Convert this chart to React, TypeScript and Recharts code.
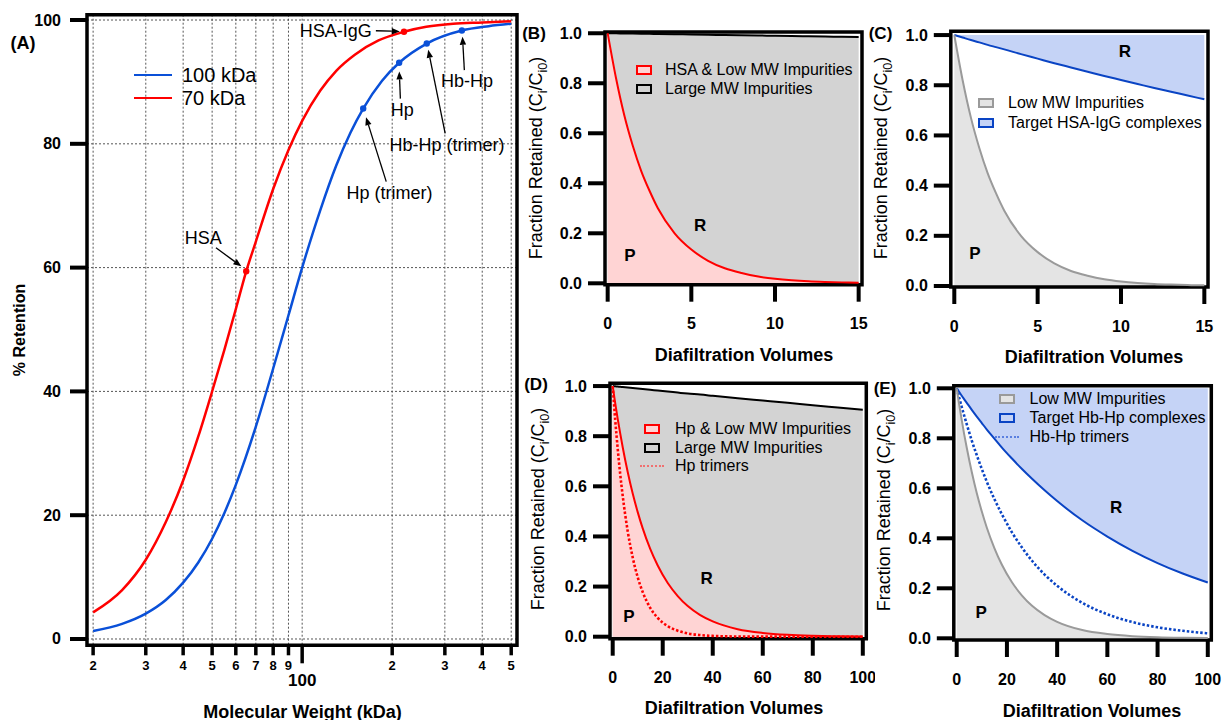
import React from "react";
import {
  ComposedChart,
  LineChart,
  Line,
  Area,
  XAxis,
  YAxis,
  CartesianGrid,
  ReferenceArea,
  ReferenceDot,
  ReferenceLine,
} from "recharts";

const FONT = "'Liberation Sans', Arial, Helvetica, sans-serif";

// ---------- panel A: % retention vs molecular weight ----------
const mw100 = [20, 25, 30, 35, 40, 45, 50, 55, 60, 70, 80, 90, 100, 115, 130, 145, 160, 185, 211, 261, 342, 420, 500];
const ret100 = [1.3, 2.45, 4.1, 6.3, 9.1, 12.4, 16.2, 20.4, 24.9, 34.3, 43.7, 52.3, 60.0, 69.3, 76.5, 81.8, 85.7, 90.2, 93.1, 96.2, 98.3, 99.0, 99.4];
const mw70 = [20, 25, 30, 35, 40, 45, 50, 55, 60, 65, 70, 80, 90, 100, 115, 130, 150, 180, 219, 260, 320, 400, 500];
const ret70 = [4.3, 7.9, 12.8, 18.9, 25.6, 32.8, 40.0, 46.8, 53.3, 59.4, 64.2, 72.7, 79.0, 83.7, 88.6, 91.8, 94.4, 96.7, 98.1, 98.9, 99.4, 99.6, 99.8];

const massTicks = [20, 30, 40, 50, 60, 70, 80, 90, 100, 200, 300, 400, 500];
const massTickLabels = ["2", "3", "4", "5", "6", "7", "8", "9", "100", "2", "3", "4", "5"];
const retentionTicks = [0, 20, 40, 60, 80, 100];

const proteins = ["HSA", "HSA-IgG", "Hp (trimer)", "Hp", "Hb-Hp (trimer)", "Hb-Hp"];
const proteinMw = [65, 219, 160, 211, 261, 342];
const proteinRet = [59.4, 98.1, 85.7, 93.1, 96.2, 98.3];
const proteinMembrane = ["70", "70", "100", "100", "100", "100"];

// ---------- panels B-E: fraction retained vs diafiltration volumes ----------
const dvShort = [0, 0.5, 1, 1.5, 2, 2.5, 3, 4, 5, 6, 7, 8, 9, 10, 11, 12, 13, 14, 15];
const hsaLowB = [1, 0.82, 0.67, 0.55, 0.45, 0.37, 0.3, 0.2, 0.135, 0.09, 0.06, 0.041, 0.027, 0.018, 0.012, 0.008, 0.0055, 0.0037, 0.0025];
const largeB = [1, 0.9995, 0.999, 0.9985, 0.998, 0.9975, 0.997, 0.996, 0.995, 0.994, 0.993, 0.992, 0.991, 0.99, 0.989, 0.988, 0.987, 0.986, 0.985];
const lowMwC = [1, 0.82, 0.67, 0.55, 0.45, 0.37, 0.3, 0.2, 0.135, 0.09, 0.06, 0.041, 0.027, 0.018, 0.012, 0.008, 0.0055, 0.0037, 0.0025];
const targetC = [1, 0.99, 0.98, 0.971, 0.961, 0.952, 0.943, 0.924, 0.906, 0.888, 0.871, 0.854, 0.837, 0.821, 0.805, 0.789, 0.774, 0.759, 0.744];

const dvLong = [0, 1, 2, 3, 4, 6, 8, 10, 12, 15, 18, 22, 26, 30, 35, 40, 50, 60, 70, 80, 90, 100];
const hpLowD = [1, 0.932, 0.869, 0.811, 0.756, 0.657, 0.571, 0.497, 0.432, 0.35, 0.284, 0.214, 0.162, 0.122, 0.086, 0.061, 0.03, 0.015, 0.0074, 0.0037, 0.0018, 0.0009];
const hpTrimerD = [1, 0.866, 0.75, 0.649, 0.562, 0.421, 0.316, 0.237, 0.178, 0.115, 0.075, 0.042, 0.024, 0.013, 0.0065, 0.0032, 0.0007, 0.0002, 0.0001, 0, 0, 0];
const largeD = [1, 0.999, 0.998, 0.997, 0.996, 0.994, 0.992, 0.99, 0.988, 0.985, 0.982, 0.978, 0.974, 0.97, 0.966, 0.961, 0.951, 0.942, 0.933, 0.923, 0.914, 0.905];
const lowMwE = [1, 0.934, 0.873, 0.815, 0.762, 0.665, 0.58, 0.507, 0.442, 0.361, 0.294, 0.224, 0.171, 0.13, 0.093, 0.066, 0.033, 0.017, 0.0086, 0.0043, 0.0022, 0.0011];
const targetE = [1, 0.985, 0.97, 0.956, 0.942, 0.914, 0.887, 0.861, 0.835, 0.799, 0.763, 0.719, 0.677, 0.638, 0.592, 0.549, 0.472, 0.407, 0.35, 0.301, 0.259, 0.223];
const trimerE = [1, 0.962, 0.925, 0.89, 0.856, 0.791, 0.732, 0.677, 0.626, 0.557, 0.496, 0.424, 0.363, 0.31, 0.255, 0.21, 0.142, 0.096, 0.065, 0.044, 0.03, 0.02];

const fracTicks = [0, 0.2, 0.4, 0.6, 0.8, 1.0];
const dvTicksShort = [0, 5, 10, 15];
const dvTicksLong = [0, 20, 40, 60, 80, 100];

// colours
const RED = "#ff0000";
const BLUE_A = "#0a50d8";
const BLUE = "#0a44c4";
const PINK = "#ffd4d4";
const GRAY_DARK = "#d3d3d3";
const GRAY_LIGHT = "#e4e4e4";
const GRAY_LINE = "#9a9a9a";
const BLUE_FILL = "#c5d3f6";

// callout layout for panel A (data coordinates)
const callouts: Record<string, { at: [number, number]; anchor: string; from: [number, number]; to: [number, number] }> = {
  HSA: { at: [46.7, 64.8], anchor: "middle", from: [51.5, 63.2], to: [62.6, 60.2] },
  "HSA-IgG": { at: [171, 98.2], anchor: "end", from: [176.4, 98.27], to: [212, 98.15] },
  "Hp (trimer)": { at: [196, 72.1], anchor: "middle", from: [191, 73.9], to: [163.5, 84.3] },
  Hp: { at: [216, 85.5], anchor: "middle", from: [213, 87.3], to: [211.2, 91.7] },
  "Hb-Hp (trimer)": { at: [305, 79.8], anchor: "middle", from: [300.7, 81.7], to: [264, 95.2] },
  "Hb-Hp": { at: [355.7, 90.2], anchor: "middle", from: [348.6, 91.9], to: [343.6, 97.3] },
};

const rows100 = mw100.map((mw, i) => ({ mw, ret: ret100[i] }));
const rows70 = mw70.map((mw, i) => ({ mw, ret: ret70[i] }));
const rowsB = dvShort.map((dv, i) => ({ dv, hsa: hsaLowB[i], large: largeB[i] }));
const rowsC = dvShort.map((dv, i) => ({ dv, low: lowMwC[i], target: targetC[i], band: [targetC[i], 1] }));
const rowsD = dvLong.map((dv, i) => ({ dv, hp: hpLowD[i], trimer: hpTrimerD[i], large: largeD[i] }));
const rowsE = dvLong.map((dv, i) => ({ dv, low: lowMwE[i], target: targetE[i], trimer: trimerE[i], band: [targetE[i], 1] }));

// ---------- tick renderers ----------
function massTick(p: any) {
  const { x, y, payload } = p;
  const idx = massTicks.indexOf(payload.value);
  const major = payload.value === 100;
  return (
    <g>
      <line x1={x} x2={x} y1={y} y2={y + (major ? 18 : 10)} stroke="#000" strokeWidth={3.5} />
      <text x={x} y={y + (major ? 35 : 20)} textAnchor="middle" dominantBaseline="central" fontFamily={FONT} fontSize={major ? 17 : 13} fontWeight="bold" fill="#000">
        {massTickLabels[idx]}
      </text>
    </g>
  );
}

function retTick(p: any) {
  const { x, y, payload } = p;
  return (
    <g>
      <line x1={x - 17} x2={x} y1={y} y2={y} stroke="#000" strokeWidth={4} />
      <text x={x - 26} y={y} textAnchor="end" dominantBaseline="central" fontFamily={FONT} fontSize={16} fontWeight="bold" fill="#000">
        {payload.value}
      </text>
    </g>
  );
}

function dvTick(p: any) {
  const { x, y, payload } = p;
  return (
    <g>
      <line x1={x} x2={x} y1={y} y2={y + 17} stroke="#000" strokeWidth={4} />
      <text x={x} y={y + 39} textAnchor="middle" dominantBaseline="central" fontFamily={FONT} fontSize={16} fontWeight="bold" fill="#000">
        {payload.value}
      </text>
    </g>
  );
}

function fracTick(p: any) {
  const { x, y, payload } = p;
  return (
    <g>
      <line x1={x - 17} x2={x} y1={y} y2={y} stroke="#000" strokeWidth={4} />
      <text x={x - 23} y={y} textAnchor="end" dominantBaseline="central" fontFamily={FONT} fontSize={16} fontWeight="bold" fill="#000">
        {Number(payload.value).toFixed(1)}
      </text>
    </g>
  );
}

const textShape = (text: string, size: number, bold: boolean, anchor: string) => (p: any) => (
  <text x={p.cx} y={p.cy} textAnchor={anchor as any} dominantBaseline="central" fontFamily={FONT} fontSize={size} fontWeight={bold ? "bold" : "normal"} fill="#000">
    {text}
  </text>
);

function arrowShape(p: any) {
  const { x1, y1, x2, y2 } = p;
  const ang = Math.atan2(y2 - y1, x2 - x1);
  const L = 8;
  const W = 3.2;
  const bx = x2 - L * Math.cos(ang);
  const by = y2 - L * Math.sin(ang);
  const pts = `${x2},${y2} ${bx - W * Math.sin(ang)},${by + W * Math.cos(ang)} ${bx + W * Math.sin(ang)},${by - W * Math.cos(ang)}`;
  return (
    <g>
      <line x1={x1} y1={y1} x2={bx} y2={by} stroke="#000" strokeWidth={1.3} />
      <polygon points={pts} fill="#000" />
    </g>
  );
}

// ---------- html text helpers ----------
function Txt({ x, y, size, bold, anchor = "middle", rotate, children }: any) {
  const tx = anchor === "middle" ? "-50%" : anchor === "end" ? "-100%" : "0";
  return (
    <div
      style={{
        position: "absolute",
        left: x,
        top: y,
        transform: `translate(${tx}, -50%)${rotate ? ` rotate(${rotate}deg)` : ""}`,
        fontFamily: FONT,
        fontSize: size,
        fontWeight: bold ? "bold" : "normal",
        whiteSpace: "nowrap",
        lineHeight: 1,
        color: "#000",
      }}
    >
      {children}
    </div>
  );
}

type LegendItem = { label: string; fill?: string; stroke: string; dotted?: boolean };

function PanelLegend({ sx, tx, y, gap, items }: { sx: number; tx: number; y: number; gap: number; items: LegendItem[] }) {
  return (
    <>
      {items.map((it, i) => (
        <React.Fragment key={it.label}>
          {it.dotted ? (
            <div style={{ position: "absolute", left: sx - 12, top: y + i * gap - 1, width: 24, borderTop: `2.5px dotted ${it.stroke}` }} />
          ) : (
            <div
              style={{
                position: "absolute",
                left: sx - 8,
                top: y + i * gap - 5,
                width: 16,
                height: 10,
                boxSizing: "border-box",
                background: it.fill,
                border: `2px solid ${it.stroke}`,
              }}
            />
          )}
          <Txt x={tx} y={y + i * gap} size={16} anchor="start">
            {it.label}
          </Txt>
        </React.Fragment>
      ))}
    </>
  );
}

const YTitle = ({ x, y }: { x: number; y: number }) => (
  <Txt x={x} y={y} size={18} rotate={-90}>
    Fraction Retained (C<sub style={{ fontSize: "0.7em" }}>i</sub>/C<sub style={{ fontSize: "0.7em" }}>i0</sub>)
  </Txt>
);

// ---------- generic decay panel ----------
const AXIS_W = 50;
const AXIS_H = 50;

function DecayPanel(props: {
  box: { left: number; top: number; width: number; height: number };
  plot: { top: number; right: number; bottom: number; left: number };
  xDomain: [number, number];
  yDomain: [number, number];
  xTicks: number[];
  rows: any[];
  areas: { key: string; fill: string }[];
  lines: { key: string; stroke: string; dotted?: boolean }[];
  marks: { text: string; x: number; y: number }[];
}) {
  const { box, plot, xDomain, yDomain, xTicks, rows, areas, lines, marks } = props;
  const margin = { top: plot.top, right: plot.right, left: plot.left - AXIS_W, bottom: plot.bottom - AXIS_H };
  return (
    <div style={{ position: "absolute", left: box.left, top: box.top }}>
      <ComposedChart width={box.width} height={box.height} data={rows} margin={margin}>
        <XAxis type="number" dataKey="dv" domain={xDomain} ticks={xTicks} allowDataOverflow interval={0} height={AXIS_H} tickSize={0} tickMargin={0} axisLine={false} tickLine={false} tick={dvTick} />
        <YAxis type="number" domain={yDomain} ticks={fracTicks} allowDataOverflow interval={0} width={AXIS_W} tickSize={0} tickMargin={0} axisLine={false} tickLine={false} tick={fracTick} />
        {areas.map((a) => (
          <Area key={a.key} type="monotone" dataKey={a.key} baseValue={0} stroke="none" fill={a.fill} fillOpacity={1} isAnimationActive={false} />
        ))}
        {lines.map((l) => (
          <Line
            key={l.key}
            type="monotone"
            dataKey={l.key}
            stroke={l.stroke}
            strokeWidth={l.dotted ? 2.6 : 2}
            strokeDasharray={l.dotted ? "2.5 2" : undefined}
            dot={false}
            activeDot={false}
            isAnimationActive={false}
          />
        ))}
        {marks.map((m) => (
          <ReferenceDot key={m.text} x={m.x} y={m.y} r={0} shape={textShape(m.text, 17, true, "middle")} />
        ))}
        <ReferenceArea x1={xDomain[0]} x2={xDomain[1]} y1={yDomain[0]} y2={yDomain[1]} fill="none" stroke="#000" strokeWidth={3.5} ifOverflow="visible" />
      </ComposedChart>
    </div>
  );
}

export default function App() {
  return (
    <div style={{ position: "absolute", left: 0, top: 0, width: 1226, height: 720, background: "#fff", fontFamily: FONT, overflow: "hidden" }}>
      {/* panel A */}
      <div style={{ position: "absolute", left: 0, top: 0 }}>
        <LineChart width={525} height={720} margin={{ top: 14.7, right: 8, bottom: 24.7, left: 27 }}>
          <CartesianGrid stroke="#555" strokeDasharray="2 2" strokeWidth={1} />
          <XAxis type="number" dataKey="mw" scale="log" domain={[19.08, 522.8]} ticks={massTicks} allowDataOverflow interval={0} height={50} tickSize={0} tickMargin={0} axisLine={false} tickLine={false} tick={massTick} />
          <YAxis type="number" domain={[-1.02, 100.86]} ticks={retentionTicks} allowDataOverflow interval={0} width={60} tickSize={0} tickMargin={0} axisLine={false} tickLine={false} tick={retTick} />
          <Line data={rows100} dataKey="ret" type="monotone" stroke={BLUE_A} strokeWidth={2.5} dot={false} activeDot={false} isAnimationActive={false} />
          <Line data={rows70} dataKey="ret" type="monotone" stroke={RED} strokeWidth={2.5} dot={false} activeDot={false} isAnimationActive={false} />
          {proteins.map((name) => (
            <ReferenceLine
              key={`arrow-${name}`}
              segment={[
                { x: callouts[name].from[0], y: callouts[name].from[1] },
                { x: callouts[name].to[0], y: callouts[name].to[1] },
              ]}
              shape={arrowShape}
            />
          ))}
          {proteins.map((name, i) => (
            <ReferenceDot key={`pt-${name}`} x={proteinMw[i]} y={proteinRet[i]} r={3.2} fill={proteinMembrane[i] === "70" ? RED : BLUE_A} stroke="none" />
          ))}
          {proteins.map((name) => (
            <ReferenceDot key={`lbl-${name}`} x={callouts[name].at[0]} y={callouts[name].at[1]} r={0} shape={textShape(name, 18, false, callouts[name].anchor)} />
          ))}
          <ReferenceArea x1={19.08} x2={522.8} y1={-1.02} y2={100.86} fill="none" stroke="#000" strokeWidth={3.5} ifOverflow="visible" />
        </LineChart>
      </div>
      {/* panel A legend + titles */}
      <div style={{ position: "absolute", left: 134, top: 74, width: 38, borderTop: `2.5px solid ${BLUE_A}` }} />
      <div style={{ position: "absolute", left: 134, top: 97, width: 38, borderTop: `2.5px solid ${RED}` }} />
      <Txt x={182} y={75} size={20} anchor="start">100 kDa</Txt>
      <Txt x={182} y={98} size={20} anchor="start">70 kDa</Txt>
      <Txt x={23} y={42.5} size={18} bold>(A)</Txt>
      <Txt x={20} y={330} size={16} bold rotate={-90}>% Retention</Txt>
      <Txt x={302.5} y={711.5} size={18} bold>Molecular Weight (kDa)</Txt>

      {/* panel B */}
      <DecayPanel
        box={{ left: 530, top: 0, width: 340, height: 372 }}
        plot={{ top: 32, right: 8, bottom: 87.3, left: 75 }}
        xDomain={[-0.16, 15.2]}
        yDomain={[-0.0056, 1.005]}
        xTicks={dvTicksShort}
        rows={rowsB}
        areas={[
          { key: "large", fill: GRAY_DARK },
          { key: "hsa", fill: PINK },
        ]}
        lines={[
          { key: "large", stroke: "#000" },
          { key: "hsa", stroke: RED },
        ]}
        marks={[
          { text: "R", x: 5.52, y: 0.233 },
          { text: "P", x: 1.33, y: 0.113 },
        ]}
      />
      <PanelLegend
        sx={643.5}
        tx={665}
        y={70}
        gap={18.5}
        items={[
          { label: "HSA & Low MW Impurities", fill: PINK, stroke: RED },
          { label: "Large MW Impurities", fill: GRAY_DARK, stroke: "#000" },
        ]}
      />
      <Txt x={534} y={33} size={17} bold>(B)</Txt>
      <YTitle x={538} y={158} />
      <Txt x={744} y={355} size={18} bold>Diafiltration Volumes</Txt>

      {/* panel C */}
      <DecayPanel
        box={{ left: 890, top: 0, width: 336, height: 372 }}
        plot={{ top: 31.3, right: 18, bottom: 85, left: 60.8 }}
        xDomain={[-0.21, 15.22]}
        yDomain={[-0.004, 1.015]}
        xTicks={dvTicksShort}
        rows={rowsC}
        areas={[
          { key: "band", fill: BLUE_FILL },
          { key: "low", fill: GRAY_LIGHT },
        ]}
        lines={[
          { key: "target", stroke: BLUE },
          { key: "low", stroke: GRAY_LINE },
        ]}
        marks={[
          { text: "R", x: 10.24, y: 0.936 },
          { text: "P", x: 1.24, y: 0.131 },
        ]}
      />
      <PanelLegend
        sx={985.5}
        tx={1008}
        y={103}
        gap={19.5}
        items={[
          { label: "Low MW Impurities", fill: GRAY_LIGHT, stroke: GRAY_LINE },
          { label: "Target HSA-IgG complexes", fill: BLUE_FILL, stroke: BLUE },
        ]}
      />
      <Txt x={880.5} y={33} size={17} bold>(C)</Txt>
      <YTitle x={883} y={158} />
      <Txt x={1094} y={357} size={18} bold>Diafiltration Volumes</Txt>

      {/* panel D */}
      <DecayPanel
        box={{ left: 530, top: 360, width: 345, height: 360 }}
        plot={{ top: 23.3, right: 8.7, bottom: 81.3, left: 80 }}
        xDomain={[-1.08, 101.4]}
        yDomain={[-0.008, 1.011]}
        xTicks={dvTicksLong}
        rows={rowsD}
        areas={[
          { key: "large", fill: GRAY_DARK },
          { key: "hp", fill: PINK },
        ]}
        lines={[
          { key: "large", stroke: "#000" },
          { key: "hp", stroke: RED },
          { key: "trimer", stroke: RED, dotted: true },
        ]}
        marks={[
          { text: "R", x: 37.6, y: 0.234 },
          { text: "P", x: 6.5, y: 0.079 },
        ]}
      />
      <PanelLegend
        sx={651.5}
        tx={675}
        y={429}
        gap={18.7}
        items={[
          { label: "Hp & Low MW Impurities", fill: PINK, stroke: RED },
          { label: "Large MW Impurities", fill: GRAY_DARK, stroke: "#000" },
          { label: "Hp trimers", stroke: "#f07070", dotted: true },
        ]}
      />
      <Txt x={536} y={384} size={17} bold>(D)</Txt>
      <YTitle x={540} y={509} />
      <Txt x={734} y={708} size={18} bold>Diafiltration Volumes</Txt>

      {/* panel E */}
      <DecayPanel
        box={{ left: 890, top: 360, width: 336, height: 360 }}
        plot={{ top: 25.7, right: 14.7, bottom: 80, left: 63.8 }}
        xDomain={[-1.16, 101.4]}
        yDomain={[-0.0068, 1.0104]}
        xTicks={dvTicksLong}
        rows={rowsE}
        areas={[
          { key: "band", fill: BLUE_FILL },
          { key: "low", fill: GRAY_LIGHT },
        ]}
        lines={[
          { key: "target", stroke: BLUE },
          { key: "trimer", stroke: BLUE, dotted: true },
          { key: "low", stroke: GRAY_LINE },
        ]}
        marks={[
          { text: "R", x: 63.5, y: 0.525 },
          { text: "P", x: 9.7, y: 0.105 },
        ]}
      />
      <PanelLegend
        sx={1006.5}
        tx={1029.5}
        y={399}
        gap={18.8}
        items={[
          { label: "Low MW Impurities", fill: GRAY_LIGHT, stroke: GRAY_LINE },
          { label: "Target Hb-Hp complexes", fill: BLUE_FILL, stroke: BLUE },
          { label: "Hb-Hp trimers", stroke: "#5a7fe0", dotted: true },
        ]}
      />
      <Txt x={885} y={388} size={17} bold>(E)</Txt>
      <YTitle x={885.5} y={510} />
      <Txt x={1092} y={711} size={18} bold>Diafiltration Volumes</Txt>
    </div>
  );
}
